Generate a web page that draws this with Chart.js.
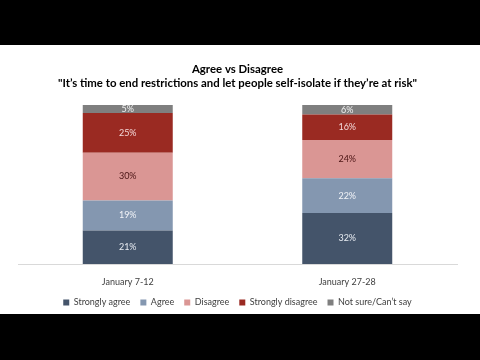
<!DOCTYPE html>
<html>
<head>
<meta charset="utf-8">
<script src="https://cdn.jsdelivr.net/npm/chart.js@4"></script>
<style>
  html, body { margin: 0; padding: 0; background: #000; }
  #wrap { position: absolute; left: 0; top: 45px; width: 480px; height: 269px; background: #fff; }
</style>
</head>
<body>
<div id="wrap"><canvas id="chart" width="480" height="269"></canvas></div>
<script>
// datos del gráfico
const categories = ['January 7-12', 'January 27-28'];
const stronglyAgree = [21, 32];
const agree = [19, 22];
const disagree = [30, 24];
const stronglyDisagree = [25, 16];
const notSure = [5, 6];
const titleLines = ['Agree vs Disagree', '"It\u2019s time to end restrictions and let people self-isolate if they\u2019re at risk"'];

const FONT = 'Lato, "Open Sans", sans-serif';

// etiquetas de porcentaje dentro de cada segmento
const labelPlugin = {
    id: 'segLabels',
    afterDatasetsDraw(chart) {
        const ctx = chart.ctx;
        ctx.save();
        ctx.font = '9px ' + FONT;
        ctx.textAlign = 'center';
        ctx.textBaseline = 'middle';
        chart.data.datasets.forEach((ds, i) => {
            const meta = chart.getDatasetMeta(i);
            meta.data.forEach((bar, j) => {
                ctx.fillStyle = ds.labelColor;
                ctx.fillText(ds.data[j] + '%', bar.x, (bar.y + bar.base) / 2);
            });
        });
        ctx.restore();
    }
};

new Chart(document.getElementById('chart').getContext('2d'), {
    type: 'bar',
    data: {
        labels: categories,
        datasets: [
            { label: 'Strongly agree', data: stronglyAgree, backgroundColor: '#44546a', labelColor: '#e8ecf2' },
            { label: 'Agree', data: agree, backgroundColor: '#8497b0', labelColor: '#f2f4f8' },
            { label: 'Disagree', data: disagree, backgroundColor: '#da9694', labelColor: '#4a1414' },
            { label: 'Strongly disagree', data: stronglyDisagree, backgroundColor: '#9a2a22', labelColor: '#f4dada' },
            { label: 'Not sure/Can\u2019t say', data: notSure, backgroundColor: '#7f7f7f', labelColor: '#f2f2f2' }
        ]
    },
    options: {
        responsive: false,
        animation: false,
        barPercentage: 0.41,
        categoryPercentage: 1,
        layout: { padding: { left: 18, right: 23, top: 0, bottom: -3 } },
        scales: {
            x: {
                stacked: true,
                grid: { display: false },
                border: { display: true, color: '#d9d9d9' },
                ticks: { color: '#404040', font: { family: FONT, size: 9, lineHeight: 1 }, padding: 6 },
                afterFit: (scale) => { scale.height -= 5; }
            },
            y: {
                stacked: true,
                display: false,
                min: 0,
                max: 100
            }
        },
        plugins: {
            title: {
                display: true,
                text: titleLines,
                color: '#000',
                font: { family: FONT, size: 11.4, weight: 'bold', lineHeight: 1.25 },
                padding: { top: 17, bottom: 14.5 }
            },
            legend: {
                position: 'bottom',
                labels: {
                    boxWidth: 6,
                    boxHeight: 6,
                    padding: 10,
                    color: '#404040',
                    font: { family: FONT, size: 9 }
                }
            },
            tooltip: { enabled: false }
        }
    },
    plugins: [labelPlugin]
});
</script>
</body>
</html>
